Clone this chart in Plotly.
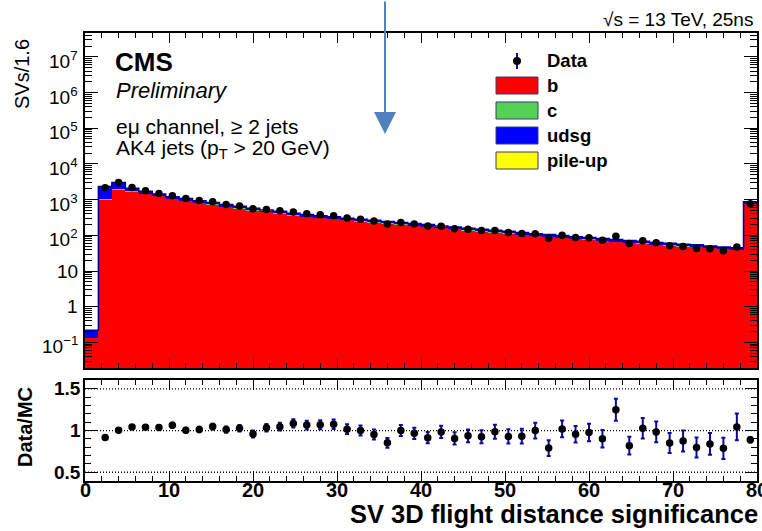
import math
import plotly.graph_objects as go

# ---------------- data ----------------
bin_width = 1.6
n_bins = 50
bin_edges = [round(i * bin_width, 2) for i in range(n_bins + 1)]
bin_centers = [round((bin_edges[i] + bin_edges[i + 1]) / 2, 2) for i in range(n_bins)]

mc_b = [0.13, 1000, 1970, 1700, 1500, 1265, 1060, 952, 830, 740,
        644, 575, 512, 457, 417, 371, 338, 316, 295, 269,
        251, 234, 218, 204, 190, 178, 162, 151, 141, 132,
        123, 115, 107, 99, 93, 87, 81, 77, 72, 68,
        64, 61, 56, 53, 50, 48, 44.5, 42, 40, 775]
mc_c = [0, 55, 50, 30, 25, 20, 17, 21, 19, 17,
        14, 13, 11, 10, 9, 8, 8, 7, 7, 6,
        6, 5, 5, 5, 4, 4, 4, 3, 3, 3,
        3, 3, 2, 2, 2, 2, 2, 2, 2, 1,
        1, 1, 1, 1, 1, 1, 1, 1, 1, 17]
mc_udsg = [0.09, 1285, 1000, 360, 175, 160, 123, 92, 80, 71,
           62, 55, 49, 44, 40, 36, 32, 30, 28, 26,
           24, 23, 21, 19, 19, 17, 15, 15, 13, 12,
           11, 11, 11, 10, 10, 9, 8, 8, 7, 7,
           7, 6, 6, 6, 5, 5, 4.5, 4, 4, 74]
mc_pileup = [0, 0, 0, 0, 0, 0, 0, 5, 4, 4,
             4, 3, 3, 2, 2, 2, 2, 2, 1, 1,
             1, 1, 1, 1, 1, 1, 1, 1, 1, 1,
             1, 0, 0, 0, 0, 0, 0, 0, 0, 0,
             0, 0, 0, 0, 0, 0, 0, 0, 0, 4]

data_counts = [0, 2146, 3032, 2182, 1768, 1497, 1276, 1074, 944, 872,
               733, 664, 552, 531, 490, 453, 405, 380, 356, 307,
               282, 251, 209, 229, 207, 183, 179, 154, 148, 137,
               136, 120, 112, 111, 83, 100, 87, 85, 73, 95,
               59, 70, 62, 51, 49, 43, 42, 37, 47, 773]
ratio_err = [0, 0.02, 0.018, 0.021, 0.024, 0.026, 0.03, 0.03, 0.033, 0.034,
             0.037, 0.04, 0.042, 0.045, 0.047, 0.05, 0.053, 0.055, 0.057, 0.058,
             0.06, 0.06, 0.059, 0.066, 0.067, 0.068, 0.074, 0.073, 0.077, 0.079,
             0.084, 0.085, 0.088, 0.095, 0.095, 0.1, 0.1, 0.106, 0.105, 0.133,
             0.107, 0.123, 0.125, 0.12, 0.125, 0.12, 0.13, 0.128, 0.16, 0.032]

y_tick_vals = [0.1, 1, 10, 100, 1e3, 1e4, 1e5, 1e6, 1e7]
y_tick_text = ["10<sup>\u22121</sup>", "1", "10", "10<sup>2</sup>", "10<sup>3</sup>",
               "10<sup>4</sup>", "10<sup>5</sup>", "10<sup>6</sup>", "10<sup>7</sup>"]
x_tick_vals = [0, 10, 20, 30, 40, 50, 60, 70, 80]
x_tick_text = ["0", "10", "20", "30", "40", "50", "60", "70", "80"]
ratio_tick_vals = [0.5, 1, 1.5]
ratio_tick_text = ["0.5", "1", "1.5"]
ratio_ref_lines = [0.5, 1.0, 1.5]

legend_labels = ["b", "c", "udsg", "pile-up"]

# ---------------- styles ----------------
W, H = 762, 531
FONT = "Liberation Sans, Arial, Helvetica, sans-serif"
COL_B = "#FF0000"
COL_C = "#55D155"
COL_UDSG = "#0000FF"
COL_PU = "#FFFF00"
COL_OUT = "#000099"
COL_ERR = "#0A0AA0"
fill_colors = [COL_B, COL_C, COL_UDSG, COL_PU]


def pxx(x):
    return x / W


def pxy(y):
    return 1 - y / H


total = [mc_b[i] + mc_c[i] + mc_udsg[i] + mc_pileup[i] for i in range(n_bins)]
ratio_x = [bin_centers[i] for i in range(n_bins) if data_counts[i] > 0]
ratio_y = [data_counts[i] / total[i] for i in range(n_bins) if data_counts[i] > 0]
ratio_e = [ratio_err[i] for i in range(n_bins) if data_counts[i] > 0]
data_x = ratio_x
data_y = [d for d in data_counts if d > 0]

fig = go.Figure()
for vals, col, name in zip([mc_b, mc_c, mc_udsg, mc_pileup], fill_colors, legend_labels):
    fig.add_trace(go.Bar(x=bin_centers, y=vals, width=bin_width, name=name,
                         marker=dict(color=col, line=dict(width=0)),
                         xaxis="x", yaxis="y", showlegend=False))

fig.add_trace(go.Scatter(x=bin_edges, y=total + [total[-1]], mode="lines",
                         line=dict(shape="hv", color=COL_OUT, width=1.6),
                         xaxis="x", yaxis="y", showlegend=False))

fig.add_trace(go.Scatter(x=data_x, y=data_y, mode="markers",
                         marker=dict(color="black", size=7.5),
                         xaxis="x", yaxis="y", showlegend=False))

fig.add_trace(go.Scatter(x=ratio_x, y=ratio_y, mode="markers",
                         marker=dict(color="black", size=7.5),
                         error_y=dict(type="data", array=ratio_e, color=COL_ERR,
                                      thickness=2, width=2),
                         xaxis="x2", yaxis="y2", showlegend=False))

xdom = [pxx(85), pxx(757)]
common_axis = dict(showline=True, linecolor="black", linewidth=1.5, mirror="allticks",
                   showgrid=False, zeroline=False, ticks="inside", tickcolor="black",
                   showticklabels=False)

fig.update_layout(
    width=W, height=H,
    margin=dict(l=0, r=0, t=0, b=0),
    paper_bgcolor="white", plot_bgcolor="white",
    barmode="stack", bargap=0,
    font=dict(family=FONT, color="black"),
    xaxis=dict(domain=xdom, anchor="y", range=[0, 80], tickmode="array",
               tickvals=x_tick_vals, ticklen=10,
               minor=dict(ticks="inside", ticklen=5, dtick=2, tick0=0, tickcolor="black"),
               **common_axis),
    yaxis=dict(domain=[pxy(368), pxy(33)], anchor="x", type="log",
               range=[-1.716, 7.668], tickmode="array", tickvals=y_tick_vals,
               ticklen=13,
               minor=dict(ticks="inside", ticklen=7, dtick="D1", tickcolor="black"),
               **common_axis),
    xaxis2=dict(domain=xdom, anchor="y2", range=[0, 80], tickmode="array",
                tickvals=x_tick_vals, ticklen=10,
                minor=dict(ticks="inside", ticklen=5, dtick=2, tick0=0, tickcolor="black"),
                **common_axis),
    yaxis2=dict(domain=[pxy(481), pxy(380)], anchor="x2", range=[0.395, 1.607],
                tickmode="array", tickvals=ratio_tick_vals, ticklen=12,
                minor=dict(ticks="inside", ticklen=6, dtick=0.1, tick0=0, tickcolor="black"),
                **common_axis),
)

for v in ratio_ref_lines:
    fig.add_shape(type="line", xref="x2", yref="y2", x0=0, x1=80, y0=v, y1=v,
                  line=dict(color="black", width=1.3, dash="1px,2px"))

ann = []


def text(x, y, s, size, xanchor="left", weight="normal", style="normal", angle=0):
    ann.append(dict(x=pxx(x), y=pxy(y), xref="paper", yref="paper", text=s,
                    showarrow=False, xanchor=xanchor, yanchor="middle", textangle=angle,
                    font=dict(size=size, family=FONT, color="black", weight=weight,
                              style=style)))


# tick labels
for v, t in zip(y_tick_vals, y_tick_text):
    ann.append(dict(x=pxx(80), y=math.log10(v), xref="paper", yref="y", text=t,
                    showarrow=False, xanchor="right", yanchor="middle",
                    yshift=(-3 if "sup" in t else 0),
                    font=dict(size=19, family=FONT, color="black")))
for v, t in zip(ratio_tick_vals, ratio_tick_text):
    ann.append(dict(x=pxx(83), y=v, xref="paper", yref="y2", text=t,
                    showarrow=False, xanchor="right", yanchor="middle",
                    font=dict(size=19, family=FONT, color="black", weight="bold")))
for v, t in zip(x_tick_vals, x_tick_text):
    ann.append(dict(x=v, y=pxy(490), xref="x2", yref="paper", text=t,
                    showarrow=False, xanchor="center", yanchor="middle",
                    font=dict(size=20, family=FONT, color="black", weight="bold")))

text(113, 62, "CMS", 26, weight="bold")
text(114, 90, "Preliminary", 22, style="italic")
text(114, 126, "e\u03bc channel, \u2265 2 jets", 21)
text(114, 149, "AK4 jets (p<sub>T</sub> > 20 GeV)", 21)
text(601, 20, "\u221as = 13 TeV, 25ns", 19)
text(22, 74, "SVs/1.6", 20, xanchor="center", angle=-90)
text(25, 427, "Data/MC", 20, xanchor="center", weight="bold", angle=-90)
text(348, 514, "SV 3D flight distance significance", 25.5, weight="bold")

# legend
text(545, 61, "Data", 18.5, weight="bold")
fig.add_shape(type="line", xref="paper", yref="paper", x0=pxx(517), x1=pxx(517),
              y0=pxy(53), y1=pxy(69), line=dict(color=COL_ERR, width=2))
fig.add_shape(type="circle", xref="paper", yref="paper", x0=pxx(513), x1=pxx(521),
              y0=pxy(65), y1=pxy(57), fillcolor="black", line=dict(color="black", width=0))
for i, (lab, col) in enumerate(zip(legend_labels, fill_colors)):
    yc = 85.5 + i * 25
    fig.add_shape(type="rect", xref="paper", yref="paper", x0=pxx(496), x1=pxx(538),
                  y0=pxy(yc + 8.5), y1=pxy(yc - 8.5), fillcolor=col,
                  line=dict(color="#3a3a7a", width=1))
    text(545, yc, lab, 18.5, weight="bold")

# arrow drawn on the reference
ann.append(dict(x=pxx(385), y=pxy(134), xref="paper", yref="paper", text="",
                showarrow=True, ax=0, ay=-140, arrowhead=2, arrowsize=2.2,
                arrowwidth=2, arrowcolor="#4F81BD"))

fig.update_layout(annotations=ann)
fig.write_html("out.html")
